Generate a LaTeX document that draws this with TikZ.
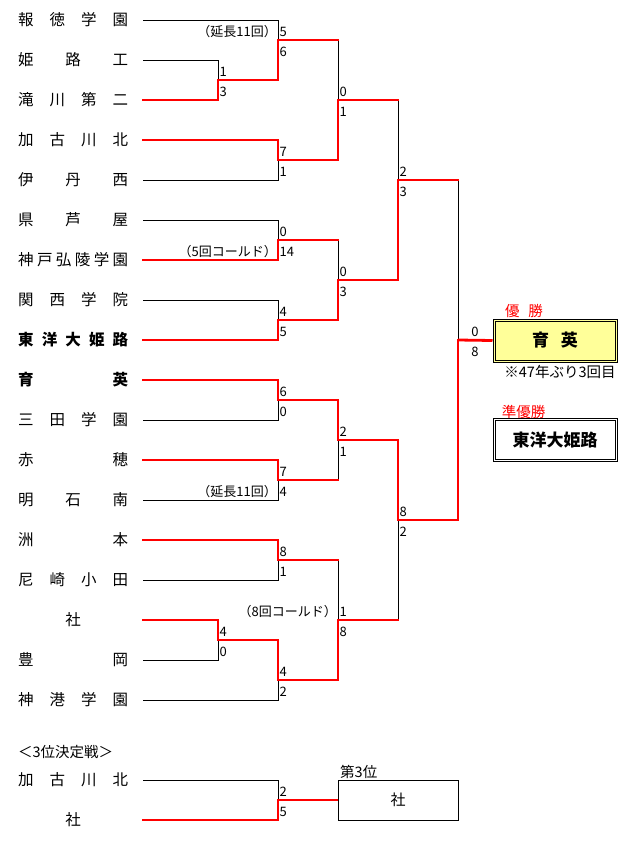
\documentclass[tikz,border=0pt]{standalone}
\usepackage{fontspec}
\setmainfont{Noto Sans CJK JP}
\usepackage{xcolor}
\definecolor{brred}{RGB}{255,0,0}
\definecolor{champyellow}{RGB}{255,255,153}
\usepackage{tikz}
\usetikzlibrary{calc}

\newcommand{\tname}[1]{\makebox[110pt][s]{#1}}
\newcommand{\matchscore}[3]{%
  \node[score] (#1-up) at ($(#1)+(1.5,-8)$) {#2};
  \node[score] (#1-dn) at ($(#1)+(1.5,12)$) {#3};}

\begin{document}
\begin{tikzpicture}[x=1pt, y=-1pt,
  lose/.style={draw=black, line width=1pt},
  win/.style={draw=brred, line width=2.8pt, line cap=rect},
  team/.style={anchor=west, inner sep=0pt, font=\fontsize{15.5}{17}\selectfont},
  teamb/.style={team, font=\fontsize{15.5}{17}\selectfont\bfseries},
  score/.style={anchor=west, inner sep=0pt, font=\fontsize{13}{15}\selectfont},
  note/.style={anchor=east, inner sep=0pt, font=\fontsize{13}{15}\selectfont},
  title/.style={inner sep=0pt, font=\fontsize{14.5}{16}\selectfont},
  champbox/.style={draw=black, line width=1pt, fill=champyellow, minimum width=124pt,
    minimum height=43pt, font=\fontsize{17}{19}\selectfont\bfseries},
  runbox/.style={champbox, fill=white},
  innerbox/.style={draw=black, line width=1pt},
  thirdbox/.style={draw=black, line width=1pt, minimum width=120pt, minimum height=40pt,
    font=\fontsize{15}{17}\selectfont}
]
\useasboundingbox (0,0) rectangle (630,841);

% teams
\node[team]  (n1)  at (18,20)  {\tname{報\hfill 徳\hfill 学\hfill 園}};
\node[team]  (n2)  at (18,60)  {\tname{姫\hfill 路\hfill 工}};
\node[team]  (n3)  at (18,100) {\tname{滝\hfill 川\hfill 第\hfill 二}};
\node[team]  (n4)  at (18,140) {\tname{加\hfill 古\hfill 川\hfill 北}};
\node[team]  (n5)  at (18,180) {\tname{伊\hfill 丹\hfill 西}};
\node[team]  (n6)  at (18,220) {\tname{県\hfill 芦\hfill 屋}};
\node[team]  (n7)  at (18,260) {\tname{神\hfill 戸\hfill 弘\hfill 陵\hfill 学\hfill 園}};
\node[team]  (n8)  at (18,300) {\tname{関\hfill 西\hfill 学\hfill 院}};
\node[teamb] (n9)  at (18,340) {\tname{東\hfill 洋\hfill 大\hfill 姫\hfill 路}};
\node[teamb] (n10) at (18,380) {\tname{育\hfill 英}};
\node[team]  (n11) at (18,420) {\tname{三\hfill 田\hfill 学\hfill 園}};
\node[team]  (n12) at (18,460) {\tname{赤\hfill 穂}};
\node[team]  (n13) at (18,500) {\tname{明\hfill 石\hfill 南}};
\node[team]  (n14) at (18,540) {\tname{洲\hfill 本}};
\node[team]  (n15) at (18,580) {\tname{尼\hfill 崎\hfill 小\hfill 田}};
\node[team]  (n16) at (18,620) {\tname{\hfill 社\hfill}};
\node[team]  (n17) at (18,660) {\tname{豊\hfill 岡}};
\node[team]  (n18) at (18,700) {\tname{神\hfill 港\hfill 学\hfill 園}};
\node[title, anchor=west] (l0) at (18,752) {＜3位決定戦＞};
\node[team]  (n19) at (18,780) {\tname{加\hfill 古\hfill 川\hfill 北}};
\node[team]  (n20) at (18,820) {\tname{\hfill 社\hfill}};

\foreach \i/\yy in {1/20,2/60,3/100,4/140,5/180,6/220,7/260,8/300,9/340,10/380,
    11/420,12/460,13/500,14/540,15/580,16/620,17/660,18/700,19/780,20/820}
  \coordinate (e\i) at (143,\yy);

% junctions
\coordinate (r1a) at (218,80);
\coordinate (r1b) at (218,640);
\coordinate (r2a) at (278,40);
\coordinate (r2b) at (278,160);
\coordinate (r2c) at (278,240);
\coordinate (r2d) at (278,320);
\coordinate (r2e) at (278,400);
\coordinate (r2f) at (278,480);
\coordinate (r2g) at (278,560);
\coordinate (r2h) at (278,680);
\coordinate (r3a) at (338,100);
\coordinate (r3b) at (338,280);
\coordinate (r3c) at (338,440);
\coordinate (r3d) at (338,620);
\coordinate (r4a) at (398,180);
\coordinate (r4b) at (398,520);
\coordinate (fin) at (458,340);
\coordinate (thd) at (278,800);

% result boxes
\node[title, text=brred] (l1) at (524,311) {優\hspace{9pt}勝};
\node[champbox] (champ) at (555,340.5) {育\hspace{12pt}英};
\draw[innerbox] ([shift={(2.5,2.5)}]champ.north west) rectangle ([shift={(-2.5,-2.5)}]champ.south east);
\node[title] (ast) at (560,372) {※47年ぶり3回目};
\node[title, text=brred] (l2) at (523.5,412) {準優勝};
\node[runbox] (runner) at (555,440) {東洋大姫路};
\draw[innerbox] ([shift={(2.5,2.5)}]runner.north west) rectangle ([shift={(-2.5,-2.5)}]runner.south east);
\node[title, anchor=west] (l3) at (340,772) {第3位};
\node[thirdbox] (bx3) at (398,800) {社};

% losing sides
\draw[lose] (e2) -| (r1a);
\draw[lose] (e17) -| (r1b);
\draw[lose] (e1) -| (r2a);
\draw[lose] (e5) -| (r2b);
\draw[lose] (e6) -| (r2c);
\draw[lose] (e8) -| (r2d);
\draw[lose] (e11) -| (r2e);
\draw[lose] (e13) -| (r2f);
\draw[lose] (e15) -| (r2g);
\draw[lose] (e18) -| (r2h);
\draw[lose] (r2a -| r3a) -- (r3a);
\draw[lose] (r2c -| r3b) -- (r3b);
\draw[lose] (r2f -| r3c) -- (r3c);
\draw[lose] (r2g -| r3d) -- (r3d);
\draw[lose] (r3a -| r4a) -- (r4a);
\draw[lose] (r3d -| r4b) -- (r4b);
\draw[lose] (r4a -| fin) -- (fin);
\draw[lose] (e19) -| (thd);

% winning sides
\draw[win] (e3) -| (r1a);
\draw[win] (e16) -| (r1b);
\draw[win] (r1a) -| (r2a);
\draw[win] (e4) -| (r2b);
\draw[win] (e7) -| (r2c);
\draw[win] (e9) -| (r2d);
\draw[win] (e10) -| (r2e);
\draw[win] (e12) -| (r2f);
\draw[win] (e14) -| (r2g);
\draw[win] (r1b) -| (r2h);
\draw[win] (r2a) -- (r2a -| r3a);
\draw[win] (r2b) -| (r3a);
\draw[win] (r2c) -- (r2c -| r3b);
\draw[win] (r2d) -| (r3b);
\draw[win] (r2e) -| (r3c);
\draw[win] (r2f) -- (r2f -| r3c);
\draw[win] (r2g) -- (r2g -| r3d);
\draw[win] (r2h) -| (r3d);
\draw[win] (r3a) -- (r3a -| r4a);
\draw[win] (r3b) -| (r4a);
\draw[win] (r3c) -| (r4b);
\draw[win] (r3d) -- (r3d -| r4b);
\draw[win] (r4a) -- (r4a -| fin);
\draw[win] (r4b) -| (fin);
\draw[win, line cap=butt] (fin) -- (champ.west);
\draw[win] (e20) -| (thd);
\draw[win, line cap=butt] (thd) -- (bx3.west);

% scores
\matchscore{r1a}{1}{3}
\matchscore{r1b}{4}{0}
\matchscore{r2a}{5}{6}
\matchscore{r2b}{7}{1}
\matchscore{r2c}{0}{14}
\matchscore{r2d}{4}{5}
\matchscore{r2e}{6}{0}
\matchscore{r2f}{7}{4}
\matchscore{r2g}{8}{1}
\matchscore{r2h}{4}{2}
\matchscore{r3a}{0}{1}
\matchscore{r3b}{0}{3}
\matchscore{r3c}{2}{1}
\matchscore{r3d}{1}{8}
\matchscore{r4a}{2}{3}
\matchscore{r4b}{8}{2}
\matchscore{thd}{2}{5}
\node[score, anchor=center] (fin-up) at ($(fin)+(17,-8)$) {0};
\node[score, anchor=center] (fin-dn) at ($(fin)+(17,12)$) {8};

% notes
\node[note] (c2a) at (277,32)  {（延長11回）};
\node[note] (c2c) at (277,252) {（5回コールド）};
\node[note] (c2f) at (277,492) {（延長11回）};
\node[note] (c3d) at (337,612) {（8回コールド）};
\end{tikzpicture}
\end{document}
